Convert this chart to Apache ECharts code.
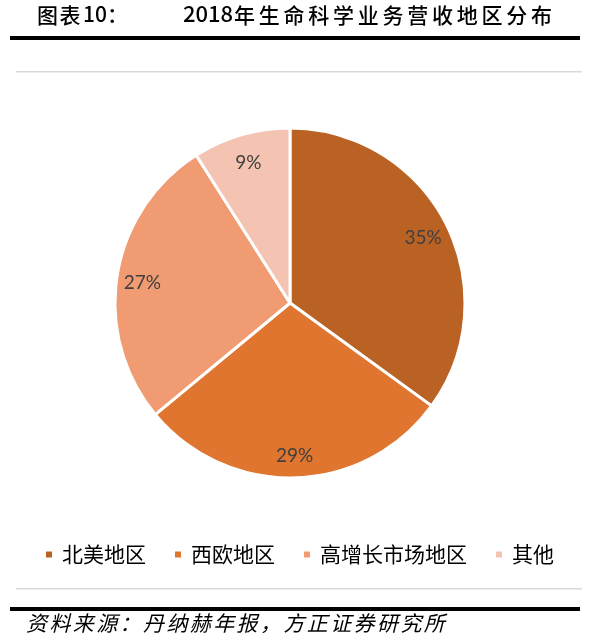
<!DOCTYPE html>
<html>
<head>
<meta charset="utf-8">
<script src="https://cdn.jsdelivr.net/npm/echarts@6/dist/echarts.min.js"></script>
<style>
html,body{margin:0;padding:0;background:#fff;}
#chart{width:597px;height:642px;}
</style>
</head>
<body>
<div id="chart"></div>
<script>
var categories = ['北美地区', '西欧地区', '高增长市场地区', '其他'];
var shares = [35, 29, 27, 9];
var colors = ['#BA6224', '#DF752E', '#F09B72', '#F5C3B2'];
var titlePrefix = '图表10：';
var titleMain = '2018年生命科学业务营收地区分布';
var sourceText = '资料来源：丹纳赫年报，方正证券研究所';

var chart = echarts.init(document.getElementById('chart'));
var pieData = categories.map(function (c, i) {
  return { name: c, value: shares[i], itemStyle: { color: colors[i] } };
});

function charTexts(str, x0, pitch, y, style) {
  var out = [];
  for (var i = 0; i < str.length; i++) {
    out.push({
      type: 'text', x: x0 + i * pitch, y: y, silent: true,
      style: Object.assign({ text: str[i], fill: '#000', fontFamily: 'Noto Sans CJK SC' }, style)
    });
  }
  return out;
}

var graphics = [];
// title
graphics = graphics.concat(charTexts(titlePrefix.slice(0, 2), 37, 22.5, 5, { fontSize: 21, fontWeight: 500 }));
graphics.push({ type: 'text', x: 83, y: 4, silent: true,
  style: { text: titlePrefix.slice(2), fontSize: 21, fontWeight: 500, fill: '#000', fontFamily: 'Noto Sans CJK SC' } });
graphics.push({ type: 'text', x: 183, y: 3, silent: true,
  style: { text: titleMain.slice(0, 4), fontSize: 22, fontWeight: 500, fill: '#000', fontFamily: 'Noto Sans CJK SC' } });
graphics = graphics.concat(charTexts(titleMain.slice(4), 234, 24.75, 5, { fontSize: 21, fontWeight: 500 }));
// rules
graphics.push({ type: 'rect', silent: true, shape: { x: 10, y: 36, width: 570, height: 4 }, style: { fill: '#000' } });
graphics.push({ type: 'rect', silent: true, shape: { x: 16, y: 71, width: 566, height: 1.5 }, style: { fill: '#D9D9D9' } });
graphics.push({ type: 'rect', silent: true, shape: { x: 16, y: 588, width: 566, height: 1.5 }, style: { fill: '#D9D9D9' } });
graphics.push({ type: 'rect', silent: true, shape: { x: 10, y: 607, width: 570, height: 4 }, style: { fill: '#000' } });
// source
graphics = graphics.concat(charTexts(sourceText, 26, 23.4, 613, { fontSize: 21, fontStyle: 'italic' }));

var option = {
  backgroundColor: '#fff',
  animation: false,
  color: colors,
  graphic: graphics,
  legend: {
    data: categories,
    left: 39,
    top: 539,
    icon: 'rect',
    itemWidth: 8,
    itemHeight: 8,
    itemGap: 27,
    textStyle: { fontSize: 21, color: '#000', fontFamily: 'Noto Sans CJK SC', padding: [0, 0, 0, 4] }
  },
  series: [
    {
      type: 'pie',
      center: [290, 303],
      radius: [0, 175],
      startAngle: 90,
      clockwise: true,
      silent: true,
      itemStyle: { borderColor: '#fff', borderWidth: 3 },
      label: { show: false },
      labelLine: { show: false },
      data: pieData
    },
    {
      type: 'pie',
      center: [290, 303],
      radius: [118, 175],
      startAngle: 90,
      clockwise: true,
      silent: true,
      itemStyle: { color: 'rgba(0,0,0,0)', borderWidth: 0 },
      label: {
        show: true, position: 'inside',
        formatter: function (p) { return p.value + '%'; },
        fontSize: 19, color: '#404040', fontFamily: 'Lato',
        offset: [0, 3]
      },
      labelLine: { show: false },
      data: categories.map(function (c, i) { return { name: c, value: shares[i] }; })
    }
  ]
};
chart.setOption(option);
</script>
</body>
</html>
